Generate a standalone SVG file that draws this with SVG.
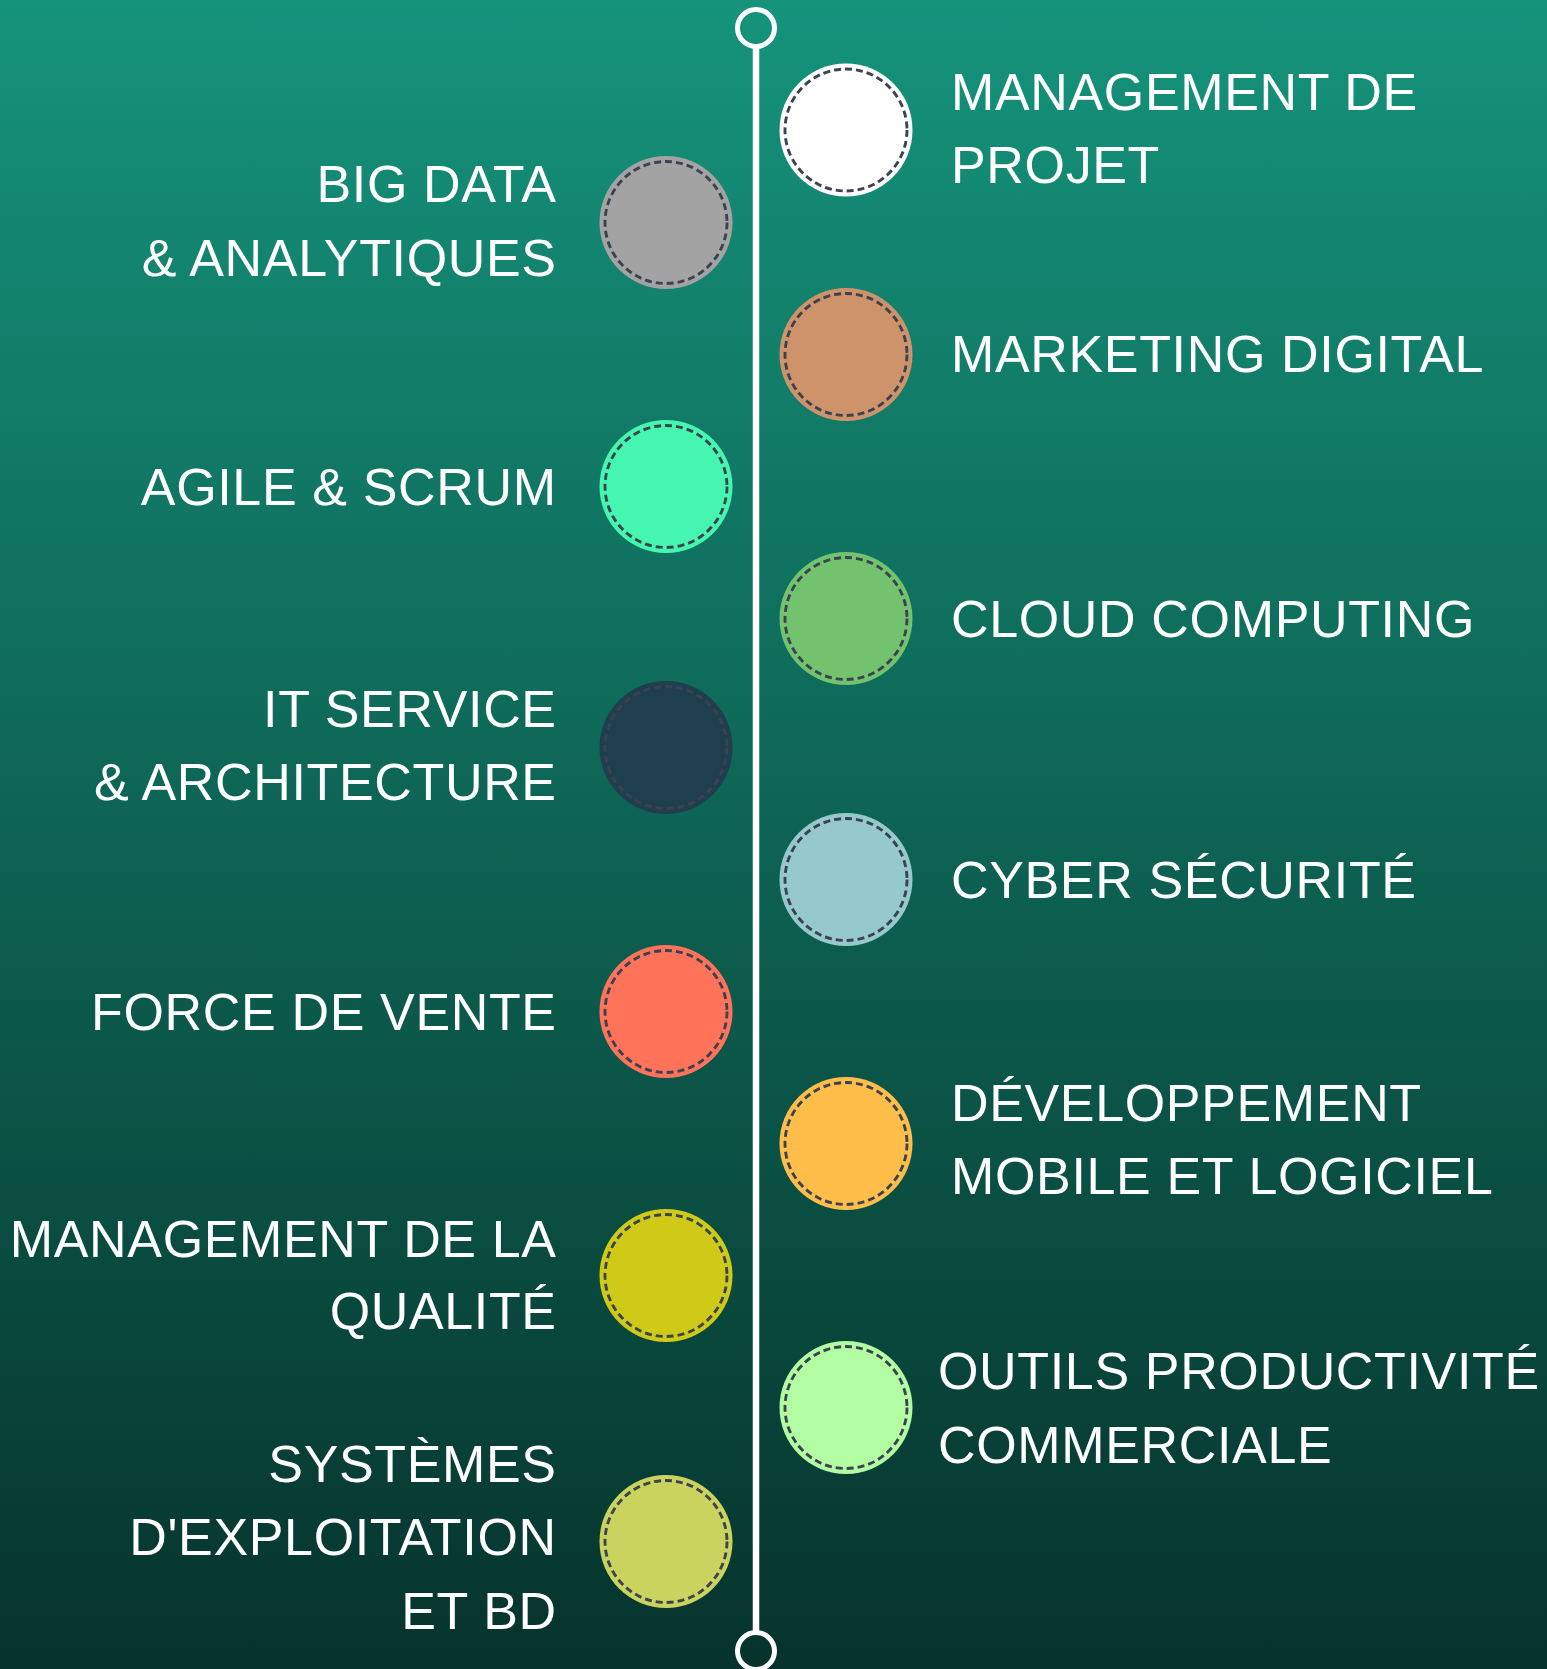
<svg xmlns="http://www.w3.org/2000/svg" width="1547" height="1669" viewBox="0 0 1547 1669">
  <defs>
    <linearGradient id="bg" x1="0" y1="0" x2="0" y2="1">
      <stop offset="0" stop-color="#15937b"/>
      <stop offset="1" stop-color="#06332c"/>
    </linearGradient>
  </defs>
  <style>
    .dot { stroke: none; }
    .dash { fill: none; stroke: #3c4350; stroke-width: 2.9; stroke-dasharray: 7 4; }
    .lbl { font-family: "Liberation Sans", Arial, sans-serif; font-size: 52px; letter-spacing: 0.65px; fill: #ffffff; }
    .l { text-anchor: end; }
    .ring { fill: none; stroke: #ffffff; stroke-width: 5; }
  </style>
  <rect x="0" y="0" width="1547" height="1669" fill="url(#bg)"/>

  <g id="connectors">
    <line x1="756" y1="46" x2="756" y2="1633" stroke="#ffffff" stroke-width="6.5"/>
    <circle class="ring" cx="756" cy="28" r="18.5"/>
    <circle class="ring" cx="756" cy="1651" r="18.5"/>
  </g>

  <g id="node-management-projet">
    <circle class="dot" cx="846" cy="130" r="66.5" fill="#ffffff"/>
    <circle class="dash" cx="846" cy="130" r="61"/>
    <text class="lbl" x="951" y="110">MANAGEMENT DE</text>
    <text class="lbl" x="951" y="183">PROJET</text>
  </g>

  <g id="node-big-data">
    <circle class="dot" cx="666" cy="222.5" r="66.5" fill="#a3a3a3"/>
    <circle class="dash" cx="666" cy="222.5" r="61"/>
    <text class="lbl l" x="556.7" y="202">BIG DATA</text>
    <text class="lbl l" x="556.7" y="276">&amp; ANALYTIQUES</text>
  </g>

  <g id="node-marketing">
    <circle class="dot" cx="846" cy="354.5" r="66.5" fill="#cf936b"/>
    <circle class="dash" cx="846" cy="354.5" r="61"/>
    <text class="lbl" x="951" y="372">MARKETING DIGITAL</text>
  </g>

  <g id="node-agile">
    <circle class="dot" cx="666" cy="486.5" r="66.5" fill="#45f6b0"/>
    <circle class="dash" cx="666" cy="486.5" r="61"/>
    <text class="lbl l" x="556.7" y="505">AGILE &amp; SCRUM</text>
  </g>

  <g id="node-cloud">
    <circle class="dot" cx="846" cy="618.5" r="66.5" fill="#73c36e"/>
    <circle class="dash" cx="846" cy="618.5" r="61"/>
    <text class="lbl" x="951" y="637">CLOUD COMPUTING</text>
  </g>

  <g id="node-it-service">
    <circle class="dot" cx="666" cy="747.5" r="66.5" fill="#1f3e4e"/>
    <circle class="dash" cx="666" cy="747.5" r="61" stroke="#3e4654"/>
    <text class="lbl l" x="556.7" y="727">IT SERVICE</text>
    <text class="lbl l" x="556.7" y="800">&amp; ARCHITECTURE</text>
  </g>

  <g id="node-cyber">
    <circle class="dot" cx="846" cy="879.5" r="66.5" fill="#96c9cc"/>
    <circle class="dash" cx="846" cy="879.5" r="61"/>
    <text class="lbl" x="951" y="898">CYBER SÉCURITÉ</text>
  </g>

  <g id="node-force-vente">
    <circle class="dot" cx="666" cy="1011.5" r="66.5" fill="#ff735a"/>
    <circle class="dash" cx="666" cy="1011.5" r="61"/>
    <text class="lbl l" x="556.7" y="1030">FORCE DE VENTE</text>
  </g>

  <g id="node-developpement">
    <circle class="dot" cx="846" cy="1143.5" r="66.5" fill="#ffbd4a"/>
    <circle class="dash" cx="846" cy="1143.5" r="61"/>
    <text class="lbl" x="951" y="1121">DÉVELOPPEMENT</text>
    <text class="lbl" x="951" y="1194">MOBILE ET LOGICIEL</text>
  </g>

  <g id="node-qualite">
    <circle class="dot" cx="666" cy="1275.5" r="66.5" fill="#cfca17"/>
    <circle class="dash" cx="666" cy="1275.5" r="61"/>
    <text class="lbl l" x="556.7" y="1257">MANAGEMENT DE LA</text>
    <text class="lbl l" x="556.7" y="1329">QUALITÉ</text>
  </g>

  <g id="node-outils">
    <circle class="dot" cx="846" cy="1407.5" r="66.5" fill="#b2fca2"/>
    <circle class="dash" cx="846" cy="1407.5" r="61"/>
    <text class="lbl" x="938" y="1389">OUTILS PRODUCTIVITÉ</text>
    <text class="lbl" x="938" y="1463">COMMERCIALE</text>
  </g>

  <g id="node-systemes">
    <circle class="dot" cx="666" cy="1541.5" r="66.5" fill="#c9d35e"/>
    <circle class="dash" cx="666" cy="1541.5" r="61"/>
    <text class="lbl l" x="556.7" y="1482">SYSTÈMES</text>
    <text class="lbl l" x="556.7" y="1555">D'EXPLOITATION</text>
    <text class="lbl l" x="556.7" y="1629">ET BD</text>
  </g>
</svg>
